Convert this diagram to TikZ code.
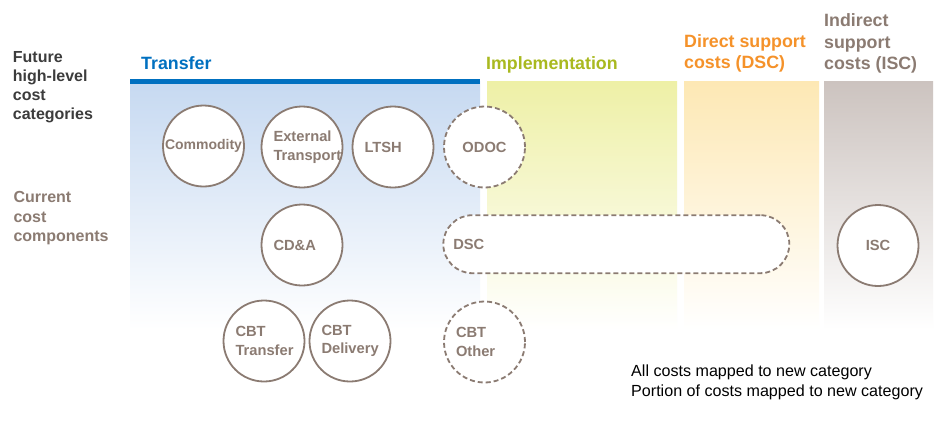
\documentclass[tikz,border=0pt]{standalone}
\usepackage{fontspec}
\setmainfont{Liberation Sans}
\usepackage{xcolor}
\usetikzlibrary{positioning}
\definecolor{wfpblue}{HTML}{0070C0}
\definecolor{implgreen}{HTML}{A9B91F}
\definecolor{dscorange}{HTML}{F5922A}
\definecolor{costbrown}{HTML}{8B7B72}
\definecolor{textdark}{HTML}{3C3C3C}
\definecolor{transferbg}{HTML}{C6D9F1}
\definecolor{implbg}{HTML}{EEF0A6}
\definecolor{dscbg}{HTML}{FDE8B4}
\definecolor{iscbg}{HTML}{CCC3BF}

\begin{document}
\begin{tikzpicture}[
  x=1pt, y=-1pt,
  comp/.style={draw=costbrown, line width=1.8pt, circle, fill=white,
    minimum size=81pt, inner sep=0pt, text=costbrown,
    font=\fontsize{14.7}{18.5}\selectfont\bfseries},
  part/.style={dash pattern=on 5pt off 3pt},
  lefttxt/.style={text width=57pt, align=left},
  head/.style={anchor=base west, inner sep=0pt, align=left,
    font=\fontsize{17.8}{21.5}\selectfont\bfseries},
  sidelab/.style={anchor=base west, inner sep=0pt, align=left,
    font=\fontsize{16}{19.2}\selectfont\bfseries},
  legend/.style={anchor=base west, inner sep=0pt,
    font=\fontsize{16.1}{19.5}\selectfont}
]
  \useasboundingbox[fill=white] (0,0) rectangle (941,432);

  % Category columns
  \foreach \xa/\xb/\col in {130/480/transferbg, 487/677/implbg,
      684/819/dscbg, 824/933/iscbg} {
    \shade[top color=\col, bottom color=white] (\xa,81) rectangle (\xb,330);
  }
  \draw[wfpblue, line width=4.5pt] (130,81.5) -- (480,81.5);

  % Headers (anchored at the last line)
  \node[head, wfpblue] (htransfer) at (141,69.3) {Transfer};
  \node[head, implgreen] (himpl) at (486,69.3) {Implementation};
  \node[head, dscorange] (hdsc) at (684,68.6) {Direct support\\costs (DSC)};
  \node[head, costbrown] (hisc) at (824,69.5) {Indirect\\support\\costs (ISC)};

  % Row labels
  \node[sidelab, textdark] (future) at (12.7,119.6)
    {Future\\high-level\\cost\\categories};
  \node[sidelab, costbrown] (current) at (13.3,241.2)
    {Current\\cost\\components};

  % Cost components
  \node[comp, font=\fontsize{14}{18.5}\selectfont\bfseries]
    (commodity) at (203.5,146) {Commodity};
  \node[comp, lefttxt] (exttrans) at (302,147) {External\\Transport};
  \node[comp, lefttxt] (ltsh) at (393,147) {LTSH};
  \node[comp, part] (odoc) at (484.5,147) {ODOC};
  \node[comp, lefttxt] (cda) at (302,245) {CD\&A};
  \node[comp, part, rectangle, rounded corners=29pt, minimum width=346pt,
    minimum height=58pt, text width=326pt, align=left]
    (dsc) at (616.3,244.2) {DSC};
  \node[comp] (isc) at (878,245.5) {ISC};
  \node[comp, lefttxt] (cbttrans) at (264,341) {CBT\\Transfer};
  \node[comp, lefttxt] (cbtdeliv) at (350,341) {CBT\\Delivery};
  \node[comp, part, lefttxt] (cbtother) at (484.5,342) {CBT\\Other};

  % Legend
  \node[legend] (lgall) at (631,376.7) {All costs mapped to new category};
  \node[legend] (lgpart) at (631,396.2) {Portion of costs mapped to new category};
\end{tikzpicture}
\end{document}
